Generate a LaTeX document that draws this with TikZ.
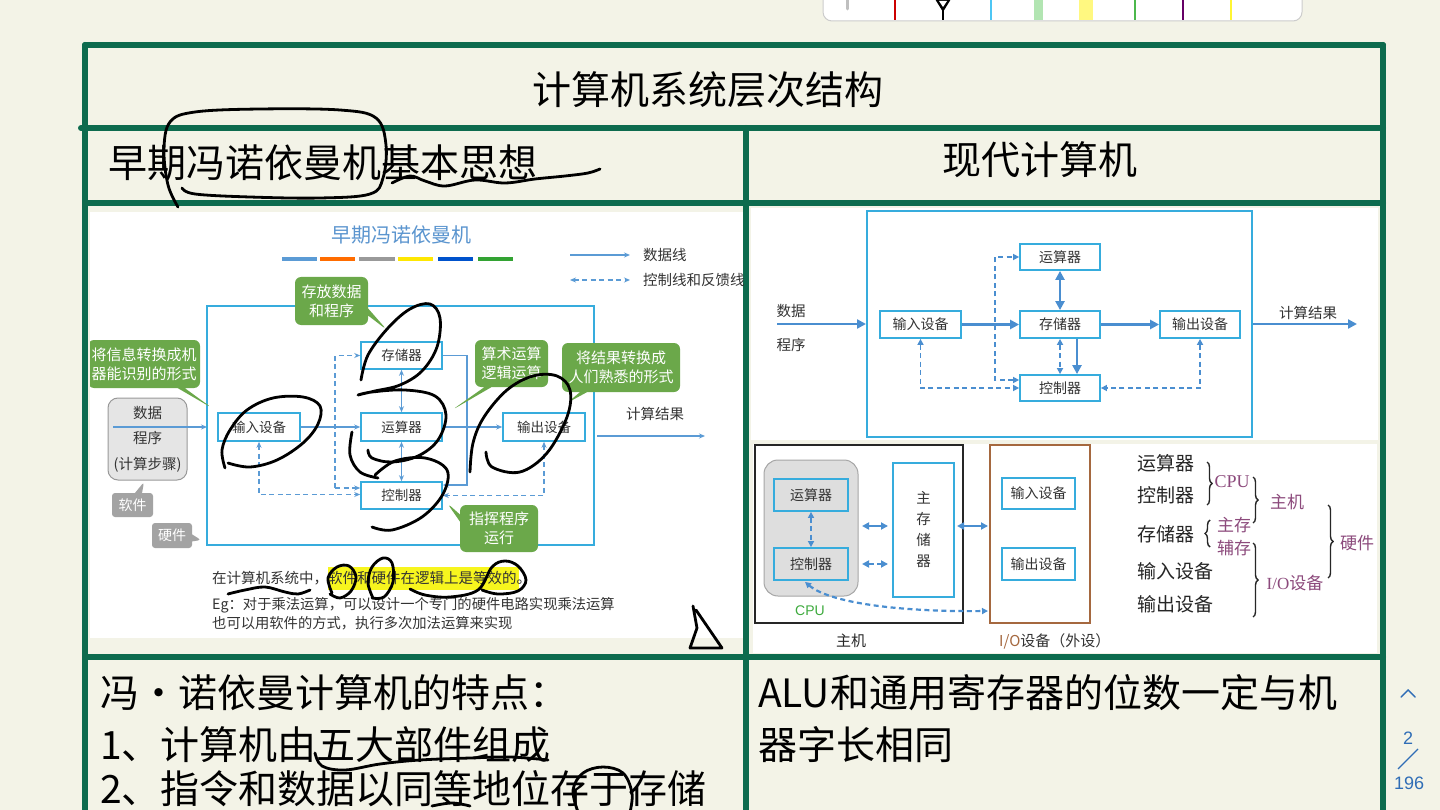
\documentclass[tikz,border=0pt]{standalone}
\usepackage{fontspec}
\setmainfont{Liberation Sans}
\newfontfamily\cjk{Noto Sans CJK SC}
\newfontfamily\lserif{Liberation Serif}
\usetikzlibrary{arrows.meta,shapes.callouts,decorations.pathreplacing,calc}
\newcommand\myfs[2]{\fontsize{#1pt}{#2pt}\selectfont}
\definecolor{bgc}{HTML}{F3F3E7}
\definecolor{fgreen}{HTML}{0D6B4E}
\definecolor{lblue}{HTML}{36ACDD}
\definecolor{ablue}{HTML}{5B9BD5}
\definecolor{tblue}{HTML}{4A8ED0}
\definecolor{cgreen}{HTML}{6BA84A}
\definecolor{tagg}{HTML}{A3A3A3}
\definecolor{ttl}{HTML}{5B95CF}
\definecolor{hili}{HTML}{F7F51E}
\definecolor{purp}{HTML}{8C4A7C}
\definecolor{brn}{HTML}{A5683F}
\definecolor{pblue}{HTML}{2F6DB6}
\definecolor{txt}{HTML}{333333}
\definecolor{cpug}{HTML}{3DAA3D}
\tikzset{
  frame/.style={draw=fgreen, line width=6pt, line cap=round},
  hw/.style={font=\cjk\myfs{39}{44}, text=black},
  hand/.style={draw=black, line width=2.8pt, line cap=round, line join=round},
  lbox/.style={draw=lblue, line width=1.6pt, fill=white, font=\cjk\myfs{13.5}{16}, text=txt, inner sep=0pt},
  rbox/.style={draw=lblue, line width=1.8pt, font=\cjk\myfs{14}{16}, text=txt, inner sep=0pt},
  gcall/.style={rectangle callout, fill=cgreen, rounded corners=6pt, text=white, font=\cjk\myfs{15}{19}, align=center, inner sep=0pt},
  gtag/.style={rectangle callout, fill=tagg, rounded corners=3pt, text=white, font=\cjk\myfs{14}{16}, inner sep=0pt},
  aline/.style={draw=ablue, line width=1.3pt, >={Stealth[length=6pt,width=5pt]}},
  dline/.style={aline, dash pattern=on 5pt off 3.5pt},
  tline/.style={draw=tblue, line width=2.8pt, >={Triangle[length=9pt,width=9pt]}},
  tdline/.style={draw=tblue, line width=1.6pt, dash pattern=on 5pt off 3.5pt, >={Triangle[length=6pt,width=6pt]}},
  small/.style={font=\cjk\myfs{14.5}{17}, text=txt},
  lst/.style={font=\cjk\myfs{19}{22}, text=black!85, anchor=west},
  plab/.style={font=\cjk\myfs{17}{20}, text=purp},
  brc/.style={decorate, decoration={brace, amplitude=5pt}, line width=1.4pt, draw=black!85}
}
\begin{document}
\begin{tikzpicture}[x=1pt,y=-1pt, every node/.style={inner sep=0pt}]
\useasboundingbox (0,0) rectangle (1440,810);
\fill[bgc] (0,0) rectangle (1440,810);

% toolbar
\draw[draw=black!20, fill=white, rounded corners=9pt, line width=1pt] (823,-15) rectangle (1302,21);
\draw[black!25, line width=3pt, line cap=round] (847,-2) -- (847,9);
\draw[red!80!black, line width=1.5pt] (895,-1) -- (895,20.5);
\fill[black] (935,-1) -- (951,-1) -- (943,12) -- cycle;
\fill[white] (939,1) -- (947,1) -- (943,7) -- cycle;
\draw[black, line width=1.8pt] (943,9) -- (943,20.5);
\draw[cyan!70, line width=1.2pt] (991,-1) -- (991,20.5);
\fill[green!50!gray!40] (1034,-1) rectangle (1043,20.5);
\fill[yellow!50] (1079,-1) rectangle (1093,20.5);
\draw[green!60!black!70, line width=1.2pt] (1135,-1) -- (1135,20.5);
\draw[violet!80!black, line width=1.5pt] (1183,-1) -- (1183,20.5);
\draw[yellow!80, line width=1.5pt] (1231,-1) -- (1231,20.5);

% images backgrounds
\fill[white] (90,212) rectangle (743,638);
\fill[white] (751,208) rectangle (1378,440);
\fill[white] (753,444) rectangle (1377,653);

% frame
\draw[frame] (85,45) -- (1383,45);
\draw[frame] (85,45) -- (85,815);
\draw[frame] (1383,45) -- (1383,815);
\draw[frame] (81,128) -- (1383,128);
\draw[frame] (85,203) -- (1383,203);
\draw[frame] (85,657) -- (1383,657);
\draw[frame] (746,128) -- (746,815);

% handwritten texts
\node[hw] (title) at (708,90) {计算机系统层次结构};
\node[hw, anchor=west] (hl) at (108,163) {早期冯诺依曼机基本思想};
\node[hw] (hr) at (1040,160) {现代计算机};
\node[hw, anchor=west] (b1) at (100,693) {冯・诺依曼计算机的特点：};
\node[hw, anchor=west] (b2) at (100,745) {1、计算机由五大部件组成};
\node[hw, anchor=west] (b3) at (100,789) {2、指令和数据以同等地位存于存储};
\node[hw, anchor=west] (b4) at (758,693) {ALU和通用寄存器的位数一定与机};
\node[hw, anchor=west] (b5) at (758,745) {器字长相同};

% ---------- left image ----------
\begin{scope}
\clip (90,210) rectangle (744,652);
\node[font=\cjk\myfs{20}{22}, text=ttl] (ltitle) at (401,235) {早期冯诺依曼机};
\draw[line width=4pt, ablue] (282,259) -- (317,259);
\draw[line width=4pt, orange!85!red] (320,259) -- (355,259);
\draw[line width=4pt, black!40] (359,259) -- (395,259);
\draw[line width=4pt, yellow!90!orange] (398,259) -- (433,259);
\draw[line width=4pt, blue!60!cyan!80!black] (438,259) -- (473,259);
\draw[line width=4pt, green!55!black!80] (478,259) -- (513,259);

\coordinate (lg1) at (570,255); \coordinate (lg2) at (630,255);
\coordinate (lg3) at (570,280); \coordinate (lg4) at (630,280);
\draw[aline,->] (lg1) -- (lg2);
\draw[dline,<->] (lg3) -- (lg4);
\node[small, anchor=west] (lgt1) at (643,255) {数据线};
\node[small, anchor=west] (lgt2) at (643,280) {控制线和反馈线};

\draw[draw=lblue, line width=1.6pt] (207,306) rectangle (594,545);

\node[lbox, minimum width=81pt, minimum height=27pt] (ls) at (401.5,355.5) {存储器};
\node[lbox, minimum width=81pt, minimum height=28pt] (la) at (401.5,427) {运算器};
\node[lbox, minimum width=81pt, minimum height=27pt] (lc) at (401.5,495.5) {控制器};
\node[lbox, minimum width=82pt, minimum height=28pt] (li) at (259,427) {输入设备};
\node[lbox, minimum width=82pt, minimum height=28pt] (lo) at (544,427) {输出设备};

\node[rounded corners=10pt, fill=black!10, draw=black!40, line width=1pt, minimum width=79pt, minimum height=82pt, align=center, font=\cjk\myfs{14.5}{25.5}, text=txt] (ldata) at (147.5,439) {数据\\程序\\(计算步骤)};

\coordinate (ldin) at (113,427); \coordinate (ldend) at (207,427);
\draw[aline,->] (ldin) -- (ldend);
\draw[aline,->] (li.east) -- (la.west);
\draw[aline,->] (la.east) -- (lo.west);
\draw[aline,<->] (ls.south) -- (la.north);
\draw[aline,<->] (la.south) -- (lc.north);
\coordinate (k1) at (467,485);
\draw[aline,->] (ls.east) -| (k1) -- (k1 -| lc.east);
\coordinate (k2) at (335,488);
\draw[dline,->] (k2) -- (k2 -| lc.west);
\draw[dline,->] (k2) |- (ls.west);
\draw[dline,<->] (li.south) |- ($(lc.west)+(0,-1)$);
\draw[dline,<->] (lo.south) |- ($(lc.east)+(0,0)$);
\coordinate (lout1) at (597,436); \coordinate (lout2) at (705,436);
\draw[aline,->] (lout1) -- (lout2);
\node[small] (lres) at (655,414) {计算结果};

\node[gcall, minimum width=73pt, minimum height=48pt, callout absolute pointer={(387,330)}] (c1) at (331.5,301) {存放数据\\和程序};
\node[gcall, minimum width=112pt, minimum height=48pt, callout absolute pointer={(212,408)}] (c2) at (144,364) {将信息转换成机\\器能识别的形式};
\node[gcall, minimum width=73pt, minimum height=47pt, callout absolute pointer={(452,410)}] (c3) at (511.5,363.5) {算术运算\\逻辑运算};
\node[gcall, minimum width=118pt, minimum height=49pt, callout absolute pointer={(567,403)}] (c4) at (621,367.5) {将结果转换成\\人们熟悉的形式};
\node[gcall, minimum width=78pt, minimum height=47pt, callout absolute pointer={(447,503)}] (c5) at (499,528.5) {指挥程序\\运行};

\node[gtag, minimum width=41pt, minimum height=24pt, callout absolute pointer={(144,482)}] (tsoft) at (132.5,505) {软件};
\node[gtag, minimum width=40pt, minimum height=25pt, callout absolute pointer={(201,540)}] (thard) at (172,535.5) {硬件};

\fill[hili] (328,567) rectangle (519,590);
\node[small, anchor=west, font=\cjk\myfs{14.5}{17}] (lt1) at (212,578) {在计算机系统中，软件和硬件在逻辑上是等效的。};
\node[small, anchor=west, font=\cjk\myfs{14.3}{17}] (lt2) at (212,605) {Eg：对于乘法运算，可以设计一个专门的硬件电路实现乘法运算};
\node[small, anchor=west, font=\cjk\myfs{14.3}{17}] (lt3) at (212,623) {也可以用软件的方式，执行多次加法运算来实现};
\end{scope}

% ---------- right top image ----------
\draw[draw=lblue, line width=1.8pt] (867,211) rectangle (1252,437);
\node[rbox, minimum width=81pt, minimum height=27pt] (ri) at (920.5,324.5) {输入设备};
\node[rbox, minimum width=80pt, minimum height=26pt] (ra) at (1060,257) {运算器};
\node[rbox, minimum width=80pt, minimum height=27pt] (rs) at (1060,324.5) {存储器};
\node[rbox, minimum width=80pt, minimum height=26pt] (rc) at (1060,388) {控制器};
\node[rbox, minimum width=80pt, minimum height=27pt] (ro) at (1200,324.5) {输出设备};
\node[small] (rdata) at (791,311) {数据};
\node[small] (rprog) at (791,345) {程序};
\node[small] (rres) at (1308,313) {计算结果};
\coordinate (rin1) at (777,324); \coordinate (rin2) at (866,324);
\coordinate (rout1) at (1253,324); \coordinate (rout2) at (1357,324);
\draw[tline,->] (rin1) -- (rin2);
\draw[tline,->] (ri.east) -- (rs.west);
\draw[tline,->] (rs.east) -- (ro.west);
\draw[tline,->] (rout1) -- (rout2);
\draw[tline,<->] (ra.south) -- (rs.north);
\draw[tline,->] ($(rs.south)+(17,0)$) -- ($(rc.north)+(17,0)$);
\draw[tdline,<->] (rs.south) -- (rc.north);
\coordinate (rk1) at (995,380);
\draw[tdline,<->] (rc.west |- rk1) -- (rk1) |- (ra.west);
\draw[tdline,<->] (ri.south) |- (rc.west);
\draw[tdline,<->] (ro.south) |- (rc.east);

% ---------- right bottom image ----------
\draw[draw=black!85, line width=2pt] (755,445) rectangle (963,623);
\draw[draw=black!35, fill=black!13, rounded corners=14pt, line width=1pt] (764,460) rectangle (858,596);
\node[rbox, minimum width=74pt, minimum height=32pt] (bra) at (811,495) {运算器};
\node[rbox, minimum width=74pt, minimum height=32pt] (brc) at (811,564) {控制器};
\node[rbox, minimum width=61pt, minimum height=134pt, align=center, font=\cjk\myfs{14.5}{21}] (bmem) at (923.5,530) {主\\存\\储\\器};
\draw[draw=brn, line width=2pt] (990,445) rectangle (1090,623);
\node[rbox, minimum width=73pt, minimum height=31pt] (bin) at (1038.5,493.5) {输入设备};
\node[rbox, minimum width=73pt, minimum height=32pt] (bout) at (1038.5,564) {输出设备};
\coordinate (a1) at (862,526); \coordinate (a2) at (888,526);
\coordinate (a3) at (862,564); \coordinate (a4) at (888,564);
\coordinate (a5) at (957,526); \coordinate (a6) at (988,526);
\coordinate (iol) at (988,611);
\draw[tline, line width=2.4pt, >={Triangle[length=7pt,width=7pt]}, <->] (a1) -- (a2);
\draw[tdline, line width=2.4pt, >={Triangle[length=7pt,width=7pt]}, <->] (a3) -- (a4);
\draw[tline, line width=2.4pt, >={Triangle[length=7pt,width=7pt]}, <->] (a5) -- (a6);
\draw[tdline, <->] (bra.south) -- (brc.north);
\draw[tdline, line width=2.2pt, <->] ($(brc.south)+(-6,1)$) .. controls (830,603) and (900,612) .. (iol);
\node[font=\myfs{14}{16}, text=cpug] (cpul) at (810,611) {CPU};
\node[font=\cjk\myfs{15}{17}, text=black!85] (hostl) at (851,641) {主机};
\node[font=\cjk\myfs{15}{17}, text=black!80, anchor=west] (iolab) at (999,641) {\textcolor{brn}{I/O}设备（外设）};

\node[lst] (l1) at (1137,463) {运算器};
\node[lst] (l2) at (1137,495) {控制器};
\node[lst] (l3) at (1137,534) {存储器};
\node[lst] (l4) at (1137,571) {输入设备};
\node[lst] (l5) at (1137,604) {输出设备};
\draw[brc] (1207,462) -- (1207,505);
\draw[brc] (1210,547) -- (1210,520);
\draw[brc] (1253,477) -- (1253,523);
\draw[brc] (1253,543) -- (1253,617);
\draw[brc] (1328,505) -- (1328,578);
\node[font=\lserif\myfs{18}{20}, text=purp] (pcpu) at (1232,482) {CPU};
\node[plab] (pzc) at (1234,525) {主存};
\node[plab] (pfc) at (1234,548) {辅存};
\node[plab] (pzj) at (1287,502) {主机};
\node[plab] (pio) at (1295,583) {\lserif I/O\cjk 设备};
\node[plab] (phw) at (1357,543) {硬件};

% ---------- handwriting strokes ----------
\draw[hand] plot[smooth, tension=0.6] coordinates {(178,207) (168,185) (164,150) (170,122) (195,112) (260,109) (340,110) (376,118) (386,145) (383,178) (370,194) (320,198) (250,197) (195,194) (182,188)};
\draw[hand] plot[smooth, tension=0.6] coordinates {(392,183) (410,176) (425,181) (445,186) (475,180) (505,183) (535,179) (565,176) (588,173) (600,169)};
\draw[hand] plot[smooth, tension=0.6] coordinates {(361,380) (368,355) (388,328) (410,309) (430,304) (440,318) (437,347) (422,371) (400,385) (375,391) (358,395) (372,392) (405,390) (435,396) (446,415) (438,440) (418,456) (392,462) (372,458) (368,450)};
\draw[hand] plot[smooth, tension=0.6] coordinates {(352,432) (350,455) (360,472) (378,478)};
\draw[hand] plot[smooth, tension=0.6] coordinates {(375,475) (395,461) (425,458) (447,470) (443,494) (422,517) (392,530) (372,527)};
\draw[hand] plot[smooth, tension=0.6] coordinates {(225,468) (222,450) (230,430) (247,410) (273,398) (303,397) (320,406) (318,424) (303,443) (277,460) (250,467) (228,463)};
\draw[hand] plot[smooth, tension=0.6] coordinates {(486,452) (492,467) (520,472) (547,453) (567,417) (570,390) (557,376) (533,376) (507,390) (484,417) (473,443) (470,472)};
\draw[hand] plot[smooth, tension=0.6] coordinates {(228,594) (245,590) (265,587) (285,592) (298,594) (310,590)};
\draw[hand] plot[smooth, tension=0.6] coordinates {(332,593) (328,578) (337,567) (349,566) (356,577) (351,591) (340,598) (330,594)};
\draw[hand] plot[smooth, tension=0.6] coordinates {(373,598) (368,583) (372,567) (383,558) (392,563) (393,582) (384,597) (372,598)};
\draw[hand] plot[smooth, tension=0.6] coordinates {(410,589) (425,595) (450,597) (478,590) (492,567) (505,561) (518,566) (526,580) (518,591) (498,594) (482,590)};
\draw[hand] (693,606) -- (697,628) -- (690,648) -- (722,648) -- (696,610);
\draw[hand] plot[smooth, tension=0.6] coordinates {(315,753) (322,766) (345,770) (380,764) (420,760) (470,758) (510,757) (548,760)};
\draw[hand] plot[smooth, tension=0.6] coordinates {(578,812) (573,790) (583,773) (603,767) (623,773) (632,793) (630,812)};
\draw[hand] plot[smooth, tension=0.6] coordinates {(432,806) (452,803) (470,806)};

% page indicator
\draw[pblue, line width=1.4pt, line cap=round] (1401,697) -- (1408,690) -- (1415,697);
\node[font=\myfs{18}{20}, text=pblue] (pg) at (1408,738) {2};
\draw[pblue, line width=1.2pt] (1418,749) -- (1398,769);
\node[font=\myfs{18}{20}, text=pblue] (pgt) at (1409,783) {196};
\end{tikzpicture}
\end{document}
